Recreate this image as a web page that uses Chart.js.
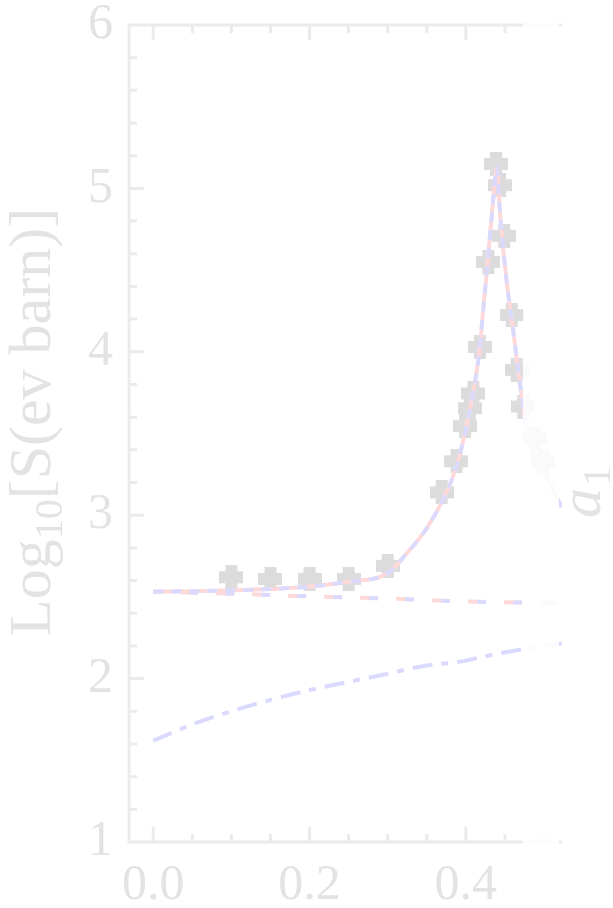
<!DOCTYPE html>
<html>
<head>
<meta charset="utf-8">
<script src="https://cdn.jsdelivr.net/npm/chart.js@4/dist/chart.umd.min.js"></script>
<style>
  html, body { margin: 0; padding: 0; background: #ffffff; }
  #wrap { width: 613px; height: 908px; }
</style>
</head>
<body>
<div id="wrap"><canvas id="myChart" width="613" height="908"></canvas></div>
<script>
// measured points (grey plus markers)
const dataX = [0.10, 0.15, 0.20, 0.25, 0.30, 0.369, 0.388, 0.399, 0.405, 0.4096, 0.418, 0.4288, 0.4386, 0.4437, 0.449, 0.4587, 0.465, 0.4735, 0.488, 0.499];
const dataY = [2.62, 2.61, 2.61, 2.61, 2.69, 3.14, 3.33, 3.545, 3.655, 3.745, 4.03, 4.55, 5.15, 5.02, 4.71, 4.225, 3.89, 3.665, 3.47, 3.33];

// total fit (pink solid with blue dashes)
const totalX = [0, 0.05, 0.10, 0.15, 0.20, 0.25, 0.30, 0.325, 0.35, 0.375, 0.39, 0.40, 0.41, 0.418, 0.422, 0.426, 0.430, 0.434, 0.437, 0.4395, 0.4415, 0.4437, 0.449, 0.454, 0.459, 0.466, 0.476, 0.48, 0.50, 0.5225];
const totalY = [2.532, 2.535, 2.540, 2.548, 2.563, 2.593, 2.645, 2.77, 2.92, 3.14, 3.33, 3.53, 3.77, 4.03, 4.25, 4.45, 4.66, 4.88, 5.04, 5.13, 5.02, 4.85, 4.57, 4.36, 4.19, 3.92, 3.58, 3.47, 3.27, 3.05];

// background term (pink and blue dashes)
const bgX = [0, 0.1, 0.2, 0.3, 0.4, 0.5225];
const bgY = [2.532, 2.520, 2.503, 2.490, 2.472, 2.461];

// dash-dot term (blue)
const ddX = [0, 0.05, 0.1, 0.15, 0.2, 0.25, 0.3, 0.341, 0.4, 0.422, 0.467, 0.5225];
const ddY = [1.62, 1.72, 1.80, 1.87, 1.93, 1.98, 2.03, 2.073, 2.11, 2.134, 2.175, 2.216];

// axis ticks
const xTicks = [0.0, 0.2, 0.4];
const yTicks = [1, 2, 3, 4, 5, 6];

const pink = '#ffd9d9';
const blue = '#dadaff';
const grey = '#dcdcdc';
const axisColor = '#ebebeb';
const textColor = '#e3e3e3';
const serif = "'Liberation Serif', 'DejaVu Serif', serif";

function pts(xs, ys) {
  return xs.map((v, i) => ({ x: v, y: ys[i] }));
}

// filled plus marker
const plus = document.createElement('canvas');
plus.width = 24; plus.height = 24;
(function () {
  const c = plus.getContext('2d');
  c.fillStyle = grey;
  c.fillRect(6, 0, 12, 24);
  c.fillRect(0, 6, 24, 12);
})();

const framePlugin = {
  id: 'frame',
  beforeDatasetsDraw(chart) {
    const { ctx, chartArea: a, scales: { x, y } } = chart;
    ctx.save();
    ctx.strokeStyle = axisColor;
    ctx.lineWidth = 3;
    ctx.beginPath();
    ctx.moveTo(a.right, a.top);
    ctx.lineTo(a.left, a.top);
    ctx.lineTo(a.left, a.bottom);
    ctx.lineTo(a.right, a.bottom);
    for (let i = 0; i <= 10; i++) {
      const px = x.getPixelForValue(i * 0.05);
      const len = i % 4 === 0 ? 15 : 8;
      ctx.moveTo(px, a.bottom); ctx.lineTo(px, a.bottom - len);
      ctx.moveTo(px, a.top); ctx.lineTo(px, a.top + len);
    }
    for (let i = 0; i <= 25; i++) {
      const py = y.getPixelForValue(1 + i * 0.2);
      const len = i % 5 === 0 ? 15 : 8;
      ctx.moveTo(a.left, py); ctx.lineTo(a.left + len, py);
    }
    ctx.stroke();
    ctx.restore();
  },
  afterDatasetsDraw(chart) {
    // washed-out strip on the right edge
    const ctx = chart.ctx;
    ctx.save();
    ctx.fillStyle = 'rgba(255,255,255,0.85)';
    ctx.fillRect(523, 0, 36, 908);
    ctx.restore();
  },
  afterDraw(chart) {
    const ctx = chart.ctx;
    ctx.save();
    ctx.fillStyle = textColor;
    ctx.textBaseline = 'alphabetic';
    // y title: Log10[S(ev barn)]
    const big = 60, small = 40;
    ctx.translate(50, 636);
    ctx.rotate(-Math.PI / 2);
    ctx.font = big + 'px ' + serif;
    let w = ctx.measureText('Log').width;
    ctx.fillText('Log', 0, 0);
    ctx.font = small + 'px ' + serif;
    ctx.fillText('10', w, 12);
    w += ctx.measureText('10').width;
    ctx.font = big + 'px ' + serif;
    ctx.fillText('[S(ev barn)]', w, 0);
    ctx.restore();

    // a1 label
    ctx.save();
    ctx.fillStyle = textColor;
    ctx.translate(600, 518);
    ctx.rotate(-Math.PI / 2);
    ctx.font = 'italic 60px ' + serif;
    const aw = ctx.measureText('a').width;
    ctx.fillText('a', 0, 0);
    ctx.font = '40px ' + serif;
    ctx.fillText('1', aw + 2, 10);
    ctx.restore();
  }
};

var ctx = document.getElementById('myChart');
var myChart = new Chart(ctx, {
  type: 'scatter',
  data: {
    datasets: [
      {
        label: 'total dashes',
        data: pts(totalX, totalY),
        showLine: true,
        borderColor: blue,
        borderWidth: 4,
        borderDash: [10, 8],
        pointRadius: 0,
        cubicInterpolationMode: 'monotone',
        order: 1
      },
      {
        label: 'total',
        data: pts(totalX, totalY),
        showLine: true,
        borderColor: pink,
        borderWidth: 4,
        pointRadius: 0,
        cubicInterpolationMode: 'monotone',
        order: 2
      },
      {
        label: 'background blue',
        data: pts(bgX, bgY),
        showLine: true,
        borderColor: blue,
        borderWidth: 4,
        borderDash: [9, 27],
        borderDashOffset: 0,
        pointRadius: 0,
        cubicInterpolationMode: 'monotone',
        order: 3
      },
      {
        label: 'background pink',
        data: pts(bgX, bgY),
        showLine: true,
        borderColor: pink,
        borderWidth: 4,
        borderDash: [18, 18],
        borderDashOffset: 9,
        pointRadius: 0,
        cubicInterpolationMode: 'monotone',
        order: 4
      },
      {
        label: 'dash-dot',
        data: pts(ddX, ddY),
        showLine: true,
        borderColor: blue,
        borderWidth: 4,
        borderDash: [20, 9, 7, 9],
        pointRadius: 0,
        cubicInterpolationMode: 'monotone',
        order: 5
      },
      {
        label: 'data',
        data: pts(dataX, dataY),
        showLine: false,
        pointStyle: plus,
        pointRadius: 12,
        order: 6
      }
    ]
  },
  options: {
    responsive: false,
    animation: false,
    events: [],
    layout: { padding: { left: 0, top: 25, right: 51, bottom: 0 } },
    plugins: { legend: { display: false }, tooltip: { enabled: false } },
    scales: {
      x: {
        type: 'linear',
        min: -0.031,
        max: 0.523,
        grid: { display: false, drawTicks: false },
        border: { display: false },
        afterBuildTicks: s => { s.ticks = xTicks.map(v => ({ value: v })); },
        afterFit: s => { s.height = 66; },
        ticks: {
          color: textColor,
          padding: 19,
          font: { family: serif, size: 50, lineHeight: 1 },
          callback: v => v.toFixed(1)
        }
      },
      y: {
        type: 'linear',
        min: 1,
        max: 6,
        grid: { display: false, drawTicks: false },
        border: { display: false },
        afterBuildTicks: s => { s.ticks = yTicks.map(v => ({ value: v })); },
        afterFit: s => { s.width = 129; s.paddingTop = 0; s.paddingBottom = 0; },
        ticks: {
          color: textColor,
          padding: 16,
          font: { family: serif, size: 50, lineHeight: 1 },
          callback: v => String(v)
        }
      }
    }
  },
  plugins: [framePlugin]
});
</script>
</body>
</html>
